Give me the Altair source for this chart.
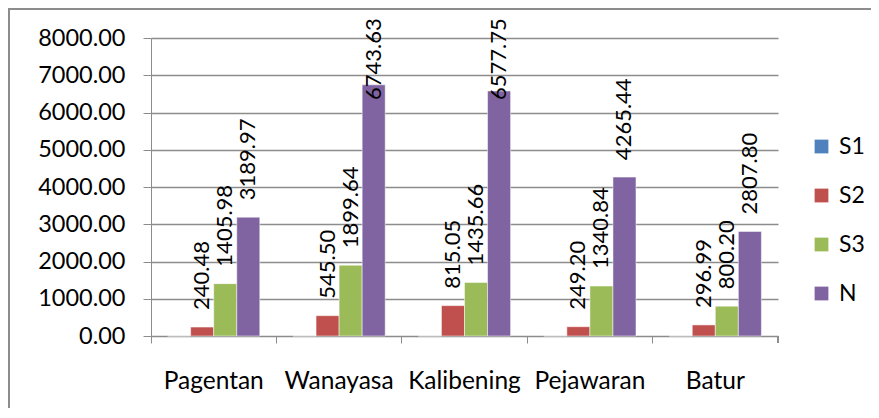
import altair as alt
import pandas as pd

categories = ["Pagentan", "Wanayasa", "Kalibening", "Pejawaran", "Batur"]
series = ["S1", "S2", "S3", "N"]
s1_values = [0, 0, 0, 0, 0]
s2_values = [240.48, 545.50, 815.05, 249.20, 296.99]
s3_values = [1405.98, 1899.64, 1435.66, 1340.84, 800.20]
n_values = [3189.97, 6743.63, 6577.75, 4265.44, 2807.80]
colors = ["#4F81BD", "#C0504D", "#9BBB59", "#8064A2"]

rows = []
for name, vals in zip(series, [s1_values, s2_values, s3_values, n_values]):
    for c, v in zip(categories, vals):
        rows.append({"cat": c, "series": name, "value": v,
                     "label": "" if name == "S1" else f"{v:.2f}"})
df = pd.DataFrame(rows)

FONT = "Lato"
GRAY = "#8c8c8c"
W, H = 627, 298

x_axis = alt.Axis(labelAngle=0, bandPosition=0, domainColor=GRAY, tickColor=GRAY,
                  tickSize=7, labelPadding=26, labelFontSize=24.5, labelFont=FONT,
                  labelColor="black", grid=False, labelBaseline="top",
                  labelFlush=False, labelOverlap=False)
y_axis = alt.Axis(values=list(range(0, 8001, 1000)), format=".2f",
                  gridColor=GRAY, gridWidth=1.5, domainColor=GRAY, tickColor=GRAY,
                  tickSize=8, labelPadding=18, labelFontSize=23.5, labelFont=FONT,
                  labelColor="black", labelOverlap=False)
x_scale = alt.Scale(paddingInner=0, paddingOuter=0)
y_scale = alt.Scale(domain=[0, 8000])
xo_enc = alt.XOffset("series:N", sort=series,
                     scale=alt.Scale(paddingInner=0, paddingOuter=0.72))

bars = alt.Chart(df).mark_bar(stroke="white", strokeWidth=0.5).encode(
    x=alt.X("cat:N", sort=categories, title=None, scale=x_scale, axis=x_axis),
    xOffset=xo_enc,
    y=alt.Y("value:Q", title=None, scale=y_scale, axis=y_axis),
    color=alt.Color("series:N", sort=series,
                    scale=alt.Scale(domain=series, range=colors),
                    legend=alt.Legend(title=None, orient="none", legendX=659, legendY=97,
                                      symbolType="square", symbolSize=190, symbolStrokeWidth=0,
                                      labelFontSize=23, labelFont=FONT, labelColor="black",
                                      rowPadding=25, labelOffset=6, padding=0, labelLimit=80)),
)

labels = alt.Chart(df).transform_filter("datum.series != 'S1'").transform_calculate(
    ly="min(datum.value + 456, 6335)"
).mark_text(angle=270, align="left", baseline="middle", fontSize=22, font=FONT,
            color="black").encode(
    x=alt.X("cat:N", sort=categories, title=None, scale=x_scale, axis=x_axis),
    xOffset=xo_enc,
    y=alt.Y("ly:Q", title=None, scale=y_scale, axis=y_axis),
    text="label:N",
)

last_tick = alt.Chart(df).mark_rule(color=GRAY).encode(
    x=alt.value(W), y=alt.value(H), y2=alt.value(H + 7))

border = alt.Chart(df).mark_rect(fill=None, stroke=GRAY, strokeWidth=2).encode(
    x=alt.value(-142), x2=alt.value(900), y=alt.value(-29), y2=alt.value(600))

chart = alt.layer(border, bars, labels, last_tick).properties(
    width=W, height=H,
    padding={"left": 143, "top": 30, "right": 93, "bottom": 72},
    autosize=alt.AutoSizeParams(type="none"),
).configure_view(stroke=None)

chart.save("out.html", embed_options={"renderer": "svg", "actions": False})
